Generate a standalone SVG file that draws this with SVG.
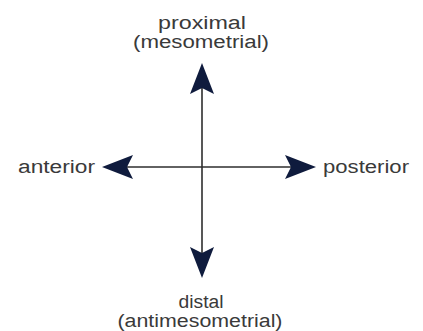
<svg xmlns="http://www.w3.org/2000/svg" width="423" height="331" viewBox="0 0 423 331">
<style>
.lbl{font-family:"Liberation Sans",Arial,sans-serif;font-size:18px;fill:#3a3a3a}
.ax{stroke:#2e2e2e;stroke-width:1.6;fill:none;marker-end:url(#head)}
</style>
<defs>
<marker id="head" viewBox="0 0 31 24" markerWidth="31" markerHeight="24" refX="6" refY="12" orient="auto" markerUnits="userSpaceOnUse">
<path d="M0,0 L31,12 L0,24 L6,12 Z" fill="#0f1b3d"/>
</marker>
</defs>
<rect width="423" height="331" fill="#ffffff"/>
<g id="connectors">
<path class="ax" d="M202,167 V88"/>
<path class="ax" d="M202,167 V253"/>
<path class="ax" d="M202,167 H127"/>
<path class="ax" d="M202,167 H291"/>
</g>
<g id="proximal">
<text class="lbl" x="202" y="29" text-anchor="middle" textLength="88" lengthAdjust="spacingAndGlyphs">proximal</text>
<text class="lbl" x="201" y="48" text-anchor="middle" textLength="136" lengthAdjust="spacingAndGlyphs">(mesometrial)</text>
</g>
<g id="anterior">
<text class="lbl" x="18" y="173" textLength="77" lengthAdjust="spacingAndGlyphs">anterior</text>
</g>
<g id="posterior">
<text class="lbl" x="323" y="173" textLength="86" lengthAdjust="spacingAndGlyphs">posterior</text>
</g>
<g id="distal">
<text class="lbl" x="201" y="308" text-anchor="middle" textLength="45" lengthAdjust="spacingAndGlyphs">distal</text>
<text class="lbl" x="200" y="327" text-anchor="middle" textLength="165" lengthAdjust="spacingAndGlyphs">(antimesometrial)</text>
</g>
</svg>
